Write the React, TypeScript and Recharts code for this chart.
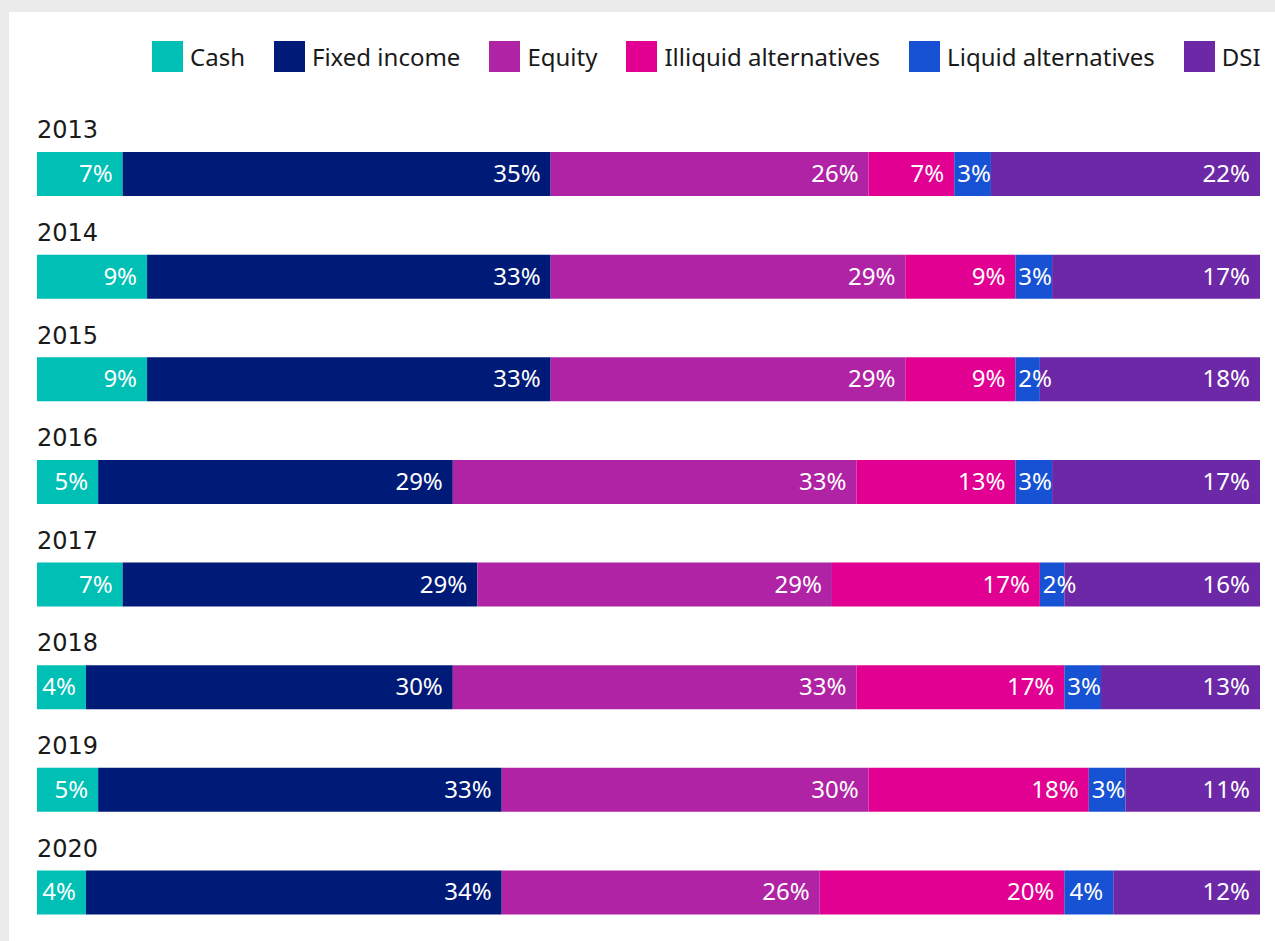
import React from "react";
import { BarChart, Bar, XAxis, YAxis, LabelList } from "recharts";

const years = ["2013", "2014", "2015", "2016", "2017", "2018", "2019", "2020"];
const cash = [7, 9, 9, 5, 7, 4, 5, 4];
const fixedIncome = [35, 33, 33, 29, 29, 30, 33, 34];
const equity = [26, 29, 29, 33, 29, 33, 30, 26];
const illiquidAlt = [7, 9, 9, 13, 17, 17, 18, 20];
const liquidAlt = [3, 3, 2, 3, 2, 3, 3, 4];
const dsi = [22, 17, 18, 17, 16, 13, 11, 12];

const seriesNames = ["Cash", "Fixed income", "Equity", "Illiquid alternatives", "Liquid alternatives", "DSI"];
const seriesKeys = ["cash", "fixedIncome", "equity", "illiquidAlt", "liquidAlt", "dsi"];
const seriesColors = ["#00C0B5", "#001A78", "#B023A4", "#E10092", "#1652D3", "#6C28A6"];

const data = years.map((y, i) => ({
  year: y,
  cash: cash[i],
  fixedIncome: fixedIncome[i],
  equity: equity[i],
  illiquidAlt: illiquidAlt[i],
  liquidAlt: liquidAlt[i],
  dsi: dsi[i],
}));

const FONT = "'Noto Sans', sans-serif";
const LABEL_FS = 24;

function textWidth(s: string) {
  let w = 0;
  for (const c of s) w += c === "%" ? 0.8 : 0.56;
  return w * LABEL_FS;
}

const ValueLabel = (props: any) => {
  const { x, y, width, height, value } = props;
  const s = `${value}%`;
  const tw = textWidth(s);
  const xEnd = Math.max(x + 4 + tw, x + width - 10);
  return (
    <text
      x={xEnd}
      y={y + height / 2 + 8}
      textAnchor="end"
      fill="#ffffff"
      fontFamily={FONT}
      fontSize={LABEL_FS}
    >
      {s}
    </text>
  );
};

const YearTick = (props: any) => {
  const { x, y, payload } = props;
  return (
    <text
      x={x}
      y={y - 36}
      textAnchor="start"
      fill="#1a1a1a"
      fontFamily="'DejaVu Sans', sans-serif"
      fontSize={24}
    >
      {payload.value}
    </text>
  );
};

export default function App() {
  return (
    <div
      style={{
        position: "absolute",
        left: 0,
        top: 0,
        width: 1275,
        height: 941,
        overflow: "hidden",
        background: "#ebebeb",
      }}
    >
      <div
        style={{
          position: "absolute",
          left: 9,
          top: 12,
          right: 0,
          bottom: 0,
          background: "#ffffff",
        }}
      />
      <div
        style={{
          position: "absolute",
          left: 152,
          top: 41,
          display: "flex",
          alignItems: "center",
          fontFamily: FONT,
          fontSize: 24,
          color: "#1a1a1a",
          whiteSpace: "nowrap",
        }}
      >
        {seriesNames.map((n, i) => (
          <div key={n} style={{ display: "flex", alignItems: "center", marginRight: 29 }}>
            <div style={{ width: 31, height: 31, background: seriesColors[i], marginRight: 7 }} />
            <span style={{ lineHeight: "31px" }}>{n}</span>
          </div>
        ))}
      </div>
      <div style={{ position: "absolute", left: 0, top: 0 }}>
        <BarChart
          width={1275}
          height={960}
          data={data}
          layout="vertical"
          margin={{ top: 123, right: 15, bottom: 16, left: 0 }}
          barSize={44}
        >
          <XAxis type="number" domain={[0, 100]} hide />
          <YAxis
            type="category"
            dataKey="year"
            width={37}
            tickSize={0}
            tickMargin={0}
            interval={0}
            axisLine={false}
            tickLine={false}
            tick={<YearTick />}
          />
          {seriesKeys.map((k, i) => (
            <Bar
              key={k}
              dataKey={k}
              name={seriesNames[i]}
              stackId="a"
              fill={seriesColors[i]}
              isAnimationActive={false}
            >
              <LabelList dataKey={k} content={<ValueLabel />} />
            </Bar>
          ))}
        </BarChart>
      </div>
    </div>
  );
}
